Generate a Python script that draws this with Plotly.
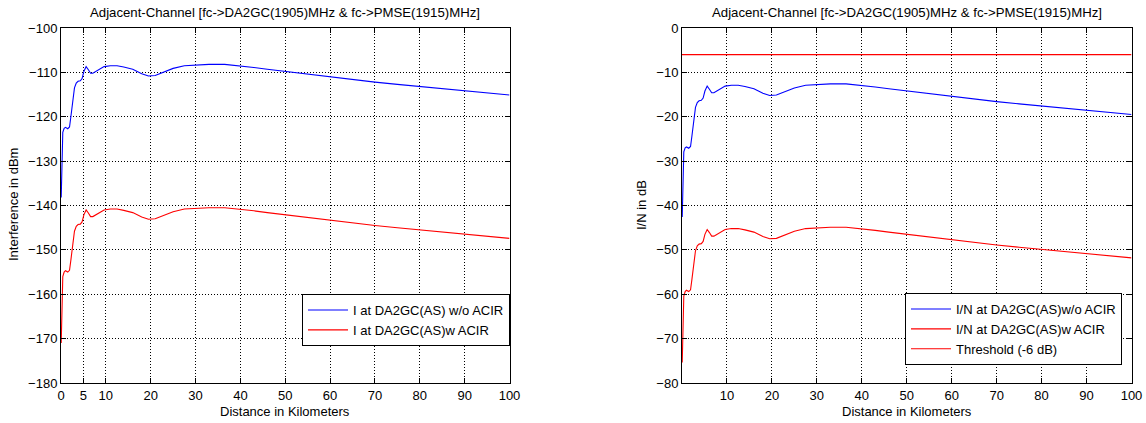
import plotly.graph_objects as go

# ---------------- data ----------------
distance_km = [0.05, 0.2, 0.4, 0.7, 1.0, 1.5, 1.9, 2.2, 2.6, 3.0, 3.4, 3.8, 4.3, 4.7,
               5.1, 5.6, 6.1, 6.6, 7.1, 7.8, 8.6, 9.6, 11, 12.5, 14, 16, 18, 19.5,
               21, 23, 25, 27.5, 30, 33, 36.5, 40, 43, 46, 50, 55, 60, 65, 70, 75,
               80, 85, 90, 95, 100]

i_wo_acir_dbm = [-138.2, -127.0, -123.5, -122.6, -122.4, -122.7, -122.3, -120.0, -116.5,
                 -113.5, -112.4, -112.0, -111.9, -111.4, -109.8, -108.7, -109.4, -110.2,
                 -110.2, -109.8, -109.2, -108.7, -108.5, -108.5, -108.8, -109.3, -110.3,
                 -110.8, -110.7, -109.9, -109.1, -108.5, -108.3, -108.2, -108.2, -108.5,
                 -108.9, -109.3, -109.8, -110.3, -110.9, -111.6, -112.2, -112.7, -113.2,
                 -113.7, -114.2, -114.7, -115.1]

i_w_acir_dbm = [-171.0, -160.0, -156.0, -155.0, -154.7, -155.0, -154.6, -152.3, -148.8,
                -145.8, -144.7, -144.3, -144.2, -143.7, -142.1, -141.0, -141.7, -142.5,
                -142.5, -142.1, -141.5, -141.0, -140.8, -140.8, -141.1, -141.6, -142.6,
                -143.1, -143.0, -142.2, -141.4, -140.8, -140.6, -140.5, -140.5, -140.8,
                -141.2, -141.6, -142.1, -142.6, -143.2, -143.9, -144.5, -145.0, -145.5,
                -146.0, -146.5, -147.0, -147.4]

in_wo_acir_db = [-42.6, -31.4, -27.9, -27.0, -26.8, -27.1, -26.7, -24.4, -20.9,
                 -17.9, -16.8, -16.4, -16.3, -15.8, -14.2, -13.1, -13.8, -14.6,
                 -14.6, -14.2, -13.6, -13.1, -12.9, -12.9, -13.2, -13.7, -14.7,
                 -15.2, -15.1, -14.3, -13.5, -12.9, -12.7, -12.6, -12.6, -12.9,
                 -13.3, -13.7, -14.2, -14.7, -15.3, -16.0, -16.6, -17.1, -17.6,
                 -18.1, -18.6, -19.1, -19.5]

in_w_acir_db = [-75.4, -64.4, -60.4, -59.4, -59.1, -59.4, -59.0, -56.7, -53.2,
                -50.2, -49.1, -48.7, -48.6, -48.1, -46.5, -45.4, -46.1, -46.9,
                -46.9, -46.5, -45.9, -45.4, -45.2, -45.2, -45.5, -46.0, -47.0,
                -47.5, -47.4, -46.6, -45.8, -45.2, -45.0, -44.9, -44.9, -45.2,
                -45.6, -46.0, -46.5, -47.0, -47.6, -48.3, -48.9, -49.4, -49.9,
                -50.4, -50.9, -51.4, -51.8]

threshold_x = [0, 100]
threshold_db = [-6, -6]

left_xticks = [0, 5, 10, 20, 30, 40, 50, 60, 70, 80, 90, 100]
right_xticks = [10, 20, 30, 40, 50, 60, 70, 80, 90, 100]
left_yticks = [-180, -170, -160, -150, -140, -130, -120, -110, -100]
right_yticks = [-80, -70, -60, -50, -40, -30, -20, -10, 0]

title_text = "Adjacent-Channel [fc-&gt;DA2GC(1905)MHz &amp; fc-&gt;PMSE(1915)MHz]"
x_label = "Distance in Kilometers"
left_y_label = "Interference in dBm"
right_y_label = "I/N in dB"

# ---------------- figure ----------------
W, H = 1146, 423
FONT = "Liberation Sans, Arial, sans-serif"
BLUE = "#0000ff"
RED = "#ff0000"
FS = 13

fig = go.Figure()

fig.add_trace(go.Scatter(x=distance_km, y=i_wo_acir_dbm, mode="lines",
                         line=dict(color=BLUE, width=1.1),
                         name="I at DA2GC(AS) w/o ACIR", xaxis="x", yaxis="y",
                         legend="legend"))
fig.add_trace(go.Scatter(x=distance_km, y=i_w_acir_dbm, mode="lines",
                         line=dict(color=RED, width=1.1),
                         name="I at DA2GC(AS)w ACIR", xaxis="x", yaxis="y",
                         legend="legend"))

fig.add_trace(go.Scatter(x=distance_km, y=in_wo_acir_db, mode="lines",
                         line=dict(color=BLUE, width=1.1),
                         name="I/N at DA2GC(AS)w/o ACIR", xaxis="x2", yaxis="y2",
                         legend="legend2"))
fig.add_trace(go.Scatter(x=distance_km, y=in_w_acir_db, mode="lines",
                         line=dict(color=RED, width=1.1),
                         name="I/N at DA2GC(AS)w ACIR", xaxis="x2", yaxis="y2",
                         legend="legend2"))
fig.add_trace(go.Scatter(x=threshold_x, y=threshold_db, mode="lines",
                         line=dict(color=RED, width=1.1),
                         name="Threshold (-6 dB)", xaxis="x2", yaxis="y2",
                         legend="legend2"))

L0, L1 = 61 / W, 509.5 / W
R0, R1 = 682 / W, 1131.5 / W
Y0, Y1 = 1 - 383 / H, 1 - 28 / H

axis_common = dict(
    showline=True, linecolor="black", linewidth=1, mirror="ticks",
    ticks="inside", ticklen=5, tickcolor="black",
    showgrid=True, gridcolor="black", griddash="1px,2px", gridwidth=1,
    zeroline=False, automargin=False,
    tickfont=dict(family=FONT, size=FS, color="black"),
)

def ann(text, x, y, angle=0, size=FS):
    return dict(text=text, x=x / W, y=1 - y / H, xref="paper", yref="paper",
                xanchor="center", yanchor="middle", showarrow=False, textangle=angle,
                font=dict(family=FONT, size=size, color="black"))

fig.update_layout(
    width=W, height=H,
    margin=dict(l=0, r=0, t=0, b=0),
    paper_bgcolor="white", plot_bgcolor="white",
    font=dict(family=FONT, size=FS, color="black"),
    xaxis=dict(domain=[L0, L1], range=[0, 100], tickmode="array",
               tickvals=left_xticks, anchor="y", **axis_common),
    yaxis=dict(domain=[Y0, Y1], range=[-180, -100], tickmode="array",
               tickvals=left_yticks, anchor="x", **axis_common),
    xaxis2=dict(domain=[R0, R1], range=[0, 100], tickmode="array",
                tickvals=right_xticks, anchor="y2", **axis_common),
    yaxis2=dict(domain=[Y0, Y1], range=[-80, 0], tickmode="array",
                tickvals=right_yticks, anchor="x2", **axis_common),
    legend=dict(x=510 / W, y=1 - 294 / H, xanchor="right", yanchor="top",
                bgcolor="white", bordercolor="black", borderwidth=1,
                font=dict(family=FONT, size=FS, color="black"),
                tracegroupgap=0, itemwidth=40),
    legend2=dict(x=1122 / W, y=1 - 293 / H, xanchor="right", yanchor="top",
                 bgcolor="white", bordercolor="black", borderwidth=1,
                 font=dict(family=FONT, size=FS, color="black"),
                 tracegroupgap=0, itemwidth=40),
    showlegend=True,
    annotations=[
        ann(title_text, (61 + 509.5) / 2, 12, size=13.2),
        ann(title_text, (682 + 1131.5) / 2, 12, size=13.2),
        ann(x_label, (61 + 509.5) / 2, 411),
        ann(x_label, (682 + 1131.5) / 2, 411),
        ann(left_y_label, 14, 205, angle=-90),
        ann(right_y_label, 642, 205, angle=-90),
    ],
)

fig.write_html("out.html")
